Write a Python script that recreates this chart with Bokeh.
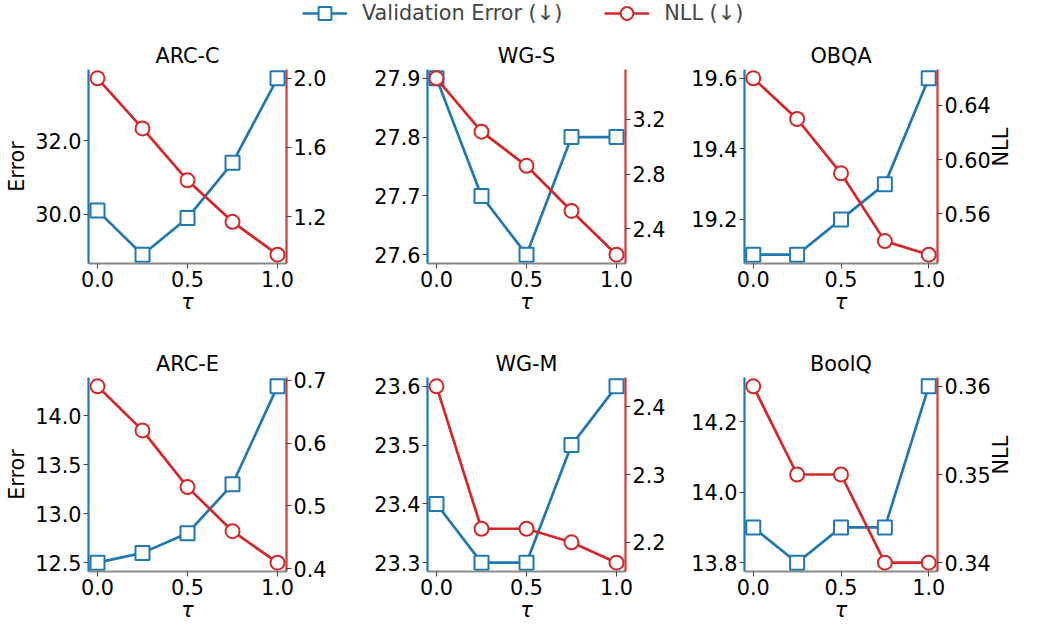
import math
from bokeh.plotting import figure
from bokeh.models import (Range1d, LinearAxis, FixedTicker, PrintfTickFormatter,
                          Legend, LegendItem)
from bokeh.layouts import column, row
from bokeh.embed import file_html
from bokeh.resources import INLINE

# ---------------- data ----------------
tau = [0.0, 0.25, 0.5, 0.75, 1.0]
x_ticks = [0.0, 0.5, 1.0]

titles = ["ARC-C", "WG-S", "OBQA", "ARC-E", "WG-M", "BoolQ"]

err_arc_c = [30.1, 28.9, 29.9, 31.4, 33.7]
nll_arc_c = [2.0, 1.71, 1.41, 1.17, 0.98]
err_wg_s = [27.9, 27.7, 27.6, 27.8, 27.8]
nll_wg_s = [3.5, 3.11, 2.86, 2.53, 2.21]
err_obqa = [19.1, 19.1, 19.2, 19.3, 19.6]
nll_obqa = [0.66, 0.63, 0.59, 0.54, 0.53]
err_arc_e = [12.5, 12.6, 12.8, 13.3, 14.3]
nll_arc_e = [0.69, 0.62, 0.53, 0.46, 0.41]
err_wg_m = [23.4, 23.3, 23.3, 23.5, 23.6]
nll_wg_m = [2.43, 2.22, 2.22, 2.20, 2.17]
err_boolq = [13.9, 13.8, 13.9, 13.9, 14.3]
nll_boolq = [0.36, 0.35, 0.35, 0.34, 0.34]

err_ticks_arc_c = [30.0, 32.0]
nll_ticks_arc_c = [1.2, 1.6, 2.0]
err_ticks_wg_s = [27.6, 27.7, 27.8, 27.9]
nll_ticks_wg_s = [2.4, 2.8, 3.2]
err_ticks_obqa = [19.2, 19.4, 19.6]
nll_ticks_obqa = [0.56, 0.60, 0.64]
err_ticks_arc_e = [12.5, 13.0, 13.5, 14.0]
nll_ticks_arc_e = [0.4, 0.5, 0.6, 0.7]
err_ticks_wg_m = [23.3, 23.4, 23.5, 23.6]
nll_ticks_wg_m = [2.2, 2.3, 2.4]
err_ticks_boolq = [13.8, 14.0, 14.2]
nll_ticks_boolq = [0.34, 0.35, 0.36]

legend_labels = ["Validation Error (\u2193)", "NLL (\u2193)"]
err_axis_label = "Error"
nll_axis_label = "NLL"
x_axis_label = "\u03c4"

# ---------------- style ----------------
BLUE = "#1f77b4"
RED = "#d62728"
RED_SPINE = "#c93a3a"
GRAY = "#8a8a8a"
FONT = "DejaVu Sans"
FS = "20.8px"
FRAME_W = 198
FRAME_H = 194


def padded(vals, frac=0.05):
    lo, hi = min(vals), max(vals)
    d = hi - lo
    return lo - frac * d, hi + frac * d


def style_axis(ax, line_color):
    ax.axis_line_color = line_color
    ax.axis_line_width = 2.2
    ax.major_tick_line_color = "#444444"
    ax.major_tick_line_width = 1
    ax.major_tick_out = 5
    ax.major_tick_in = 0
    ax.minor_tick_line_color = None
    ax.major_label_standoff = 2
    ax.major_label_text_font = FONT
    ax.major_label_text_font_size = FS
    ax.major_label_text_color = "black"
    ax.axis_label_text_font = FONT
    ax.axis_label_text_font_size = FS
    ax.axis_label_text_font_style = "normal"
    ax.axis_label_text_color = "black"


def panel(title, err, nll, err_ticks, nll_ticks, err_fmt, nll_fmt,
          bl, br, bt, bb, err_label=False, nll_label=False):
    p = figure(width=bl + FRAME_W + br, height=bt + FRAME_H + bb, title=title,
               x_range=Range1d(*padded(tau)), y_range=Range1d(*padded(err)),
               output_backend="svg", toolbar_location=None,
               min_border_left=bl, min_border_right=br,
               min_border_top=bt, min_border_bottom=bb)
    p.extra_y_ranges = {"nll": Range1d(*padded(nll))}
    p.grid.visible = False
    p.outline_line_color = None

    p.title.text_font = FONT
    p.title.text_font_size = FS
    p.title.text_font_style = "normal"
    p.title.text_color = "black"
    p.title.align = "center"
    p.title.standoff = 4

    p.line(tau, err, line_color=BLUE, line_width=2.7)
    p.scatter(tau, err, marker="square", size=14, fill_color="white",
              line_color=BLUE, line_width=2)
    p.line(tau, nll, line_color=RED, line_width=2.7, y_range_name="nll")
    p.scatter(tau, nll, marker="circle", size=14, fill_color="white",
              line_color=RED, line_width=2, y_range_name="nll")

    xa = p.xaxis[0]
    style_axis(xa, GRAY)
    xa.ticker = FixedTicker(ticks=x_ticks)
    xa.formatter = PrintfTickFormatter(format="%.1f")
    xa.axis_label = x_axis_label
    xa.axis_label_text_font_style = "italic"
    xa.axis_label_standoff = 0

    ya = p.yaxis[0]
    style_axis(ya, BLUE)
    ya.ticker = FixedTicker(ticks=err_ticks)
    ya.formatter = PrintfTickFormatter(format=err_fmt)
    if err_label:
        ya.axis_label = err_axis_label
        ya.axis_label_standoff = 3

    ra = LinearAxis(y_range_name="nll", ticker=FixedTicker(ticks=nll_ticks),
                    formatter=PrintfTickFormatter(format=nll_fmt))
    style_axis(ra, RED_SPINE)
    if nll_label:
        ra.axis_label = nll_axis_label
        ra.axis_label_standoff = 7
        try:
            ra.axis_label_orientation = math.pi / 2
        except Exception:
            pass
    p.add_layout(ra, "right")
    return p


# borders (left, right, top, bottom)
T1, T2, B = 43, 58, 56
p1 = panel(titles[0], err_arc_c, nll_arc_c, err_ticks_arc_c, nll_ticks_arc_c, "%.1f", "%.1f",
           88, 55, T1, B, err_label=True)
p2 = panel(titles[1], err_wg_s, nll_wg_s, err_ticks_wg_s, nll_ticks_wg_s, "%.1f", "%.1f",
           86, 55, T1, B)
p3 = panel(titles[2], err_obqa, nll_obqa, err_ticks_obqa, nll_ticks_obqa, "%.1f", "%.2f",
           64, 85, T1, B, nll_label=True)
p4 = panel(titles[3], err_arc_e, nll_arc_e, err_ticks_arc_e, nll_ticks_arc_e, "%.1f", "%.1f",
           88, 55, T2, B, err_label=True)
p5 = panel(titles[4], err_wg_m, nll_wg_m, err_ticks_wg_m, nll_ticks_wg_m, "%.1f", "%.1f",
           86, 55, T2, B)
p6 = panel(titles[5], err_boolq, nll_boolq, err_ticks_boolq, nll_ticks_boolq, "%.1f", "%.2f",
           64, 85, T2, B, nll_label=True)

# ---------------- legend strip ----------------
# the strip's ranges lie far from the data, so only the legend samples show
lf = figure(width=1027, height=26, x_range=Range1d(0, 1), y_range=Range1d(-3, -2),
            output_backend="svg", toolbar_location=None,
            x_axis_location=None, y_axis_location=None, min_border=0)
lf.grid.visible = False
lf.outline_line_color = None
l1 = lf.line(tau, err_arc_c, line_color=BLUE, line_width=2.7)
s1 = lf.scatter(tau, err_arc_c, marker="square", size=14, fill_color="white",
                line_color=BLUE, line_width=2)
l2 = lf.line(tau, nll_arc_c, line_color=RED, line_width=2.7)
s2 = lf.scatter(tau, nll_arc_c, marker="circle", size=14, fill_color="white",
                line_color=RED, line_width=2)
legend = Legend(items=[LegendItem(label=legend_labels[0], renderers=[l1, s1]),
                       LegendItem(label=legend_labels[1], renderers=[l2, s2])],
                orientation="horizontal", location=(302, -3),
                border_line_color=None, background_fill_alpha=0,
                padding=0, margin=0, spacing=42,
                glyph_width=45, glyph_height=32, label_height=20,
                label_standoff=15, label_text_font=FONT, label_text_font_size=FS)
lf.add_layout(legend, "center")

layout = column(lf, row(p1, p2, p3), row(p4, p5, p6))

open("out.html", "w").write(file_html(layout, INLINE))
